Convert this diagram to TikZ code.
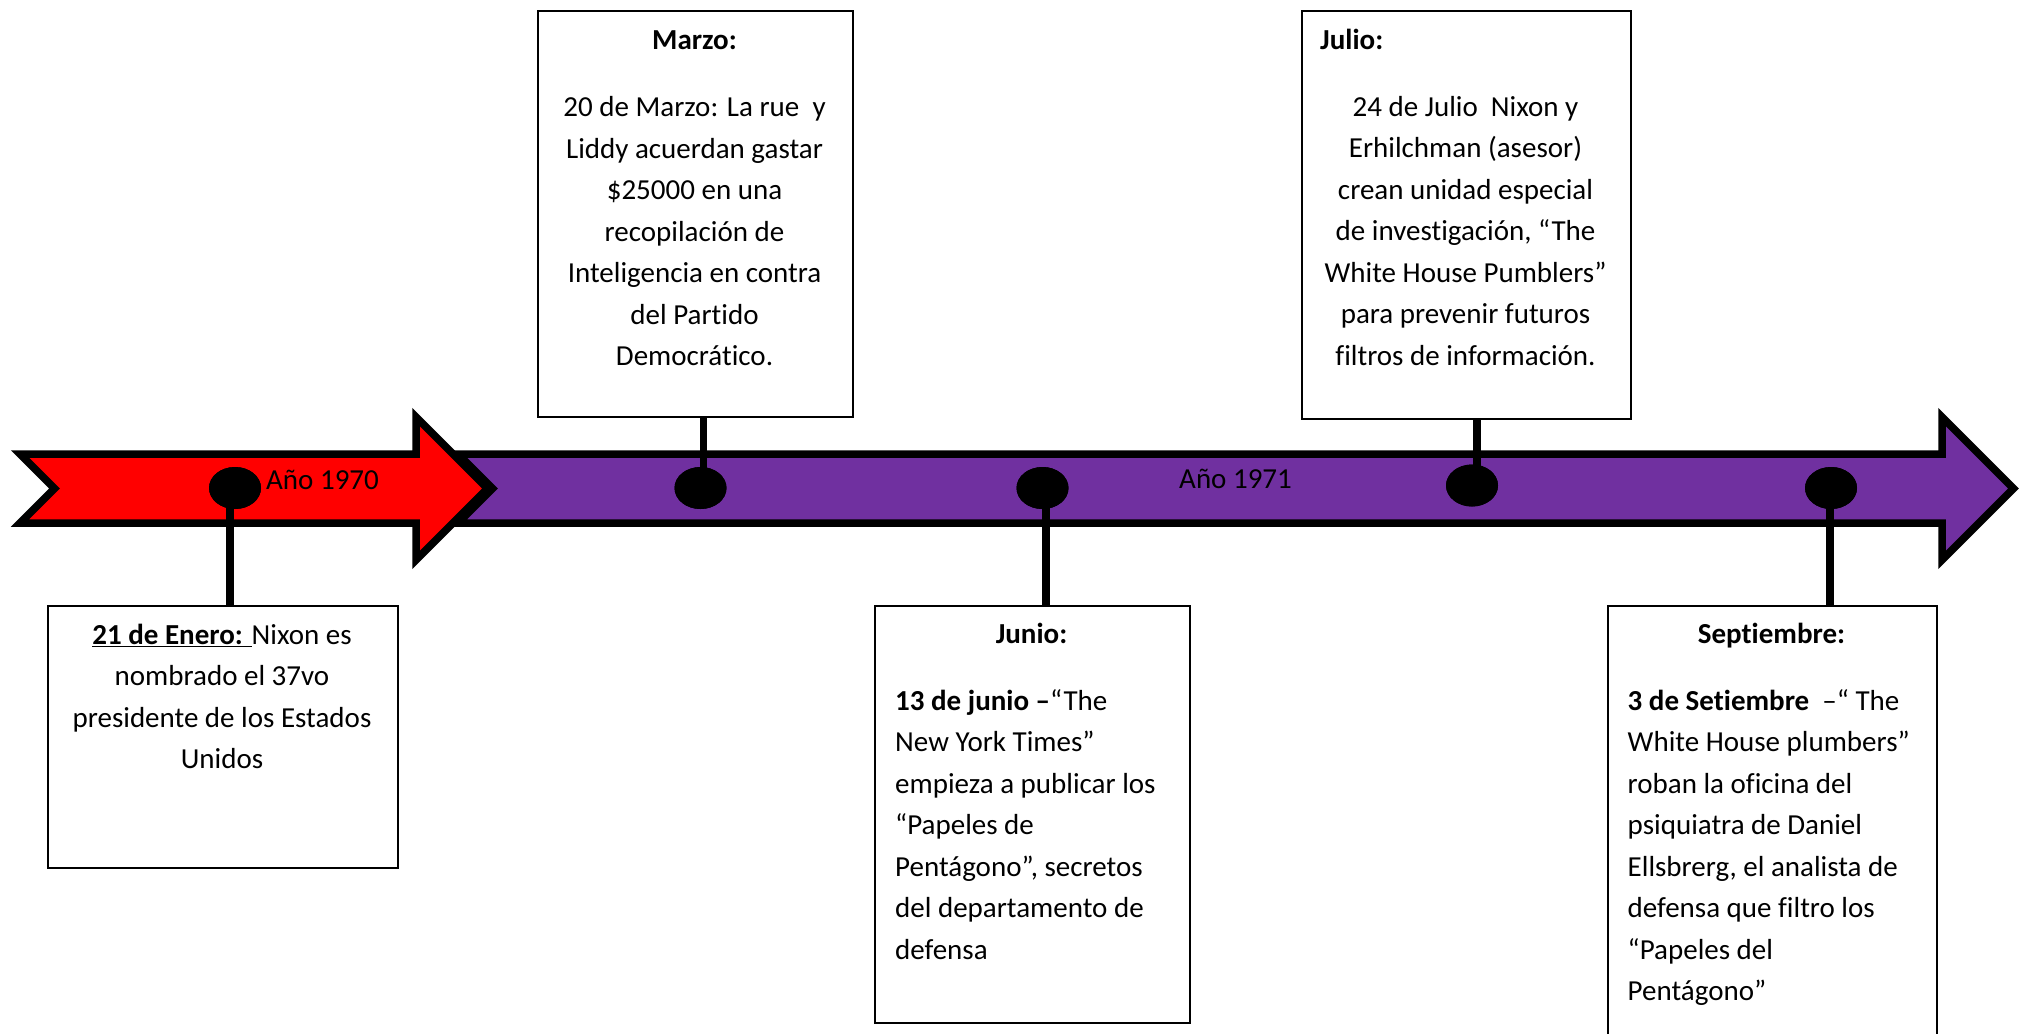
\documentclass[tikz,border=0pt]{standalone}
\usepackage{fontspec}
\setmainfont[Ligatures={NoCommon,NoContextual,NoRare},Contextuals=NoAlternate,RawFeature={-liga;-calt;-clig;-dlig}]{Carlito}
\usetikzlibrary{shapes.geometric,calc}
\definecolor{arrowpurple}{HTML}{7030A0}
\definecolor{arrowred}{HTML}{FF0000}
\newcommand\evfont{\fontsize{29}{41.5}\selectfont}
\begin{document}
\begin{tikzpicture}[x=1pt,y=-1pt,
  evbox/.style={draw=black, line width=2.4pt, fill=white, inner sep=0pt, anchor=north west},
  evtext/.style={inner sep=0pt, font=\evfont, text=black},
  stemline/.style={line width=7.5pt, draw=black},
  evdot/.style={ellipse, fill=black, draw=none, inner sep=0pt, minimum width=52pt, minimum height=42pt},
  arrowband/.style={draw=black, line width=7.5pt, line join=miter, miter limit=10}
]
\useasboundingbox (0,0) rectangle (2025,1033);
\clip (0,0) rectangle (2025,1033);

% timeline arrows
\draw[arrowband, fill=arrowpurple] (458,454) -- (1942,454) -- (1942,417) -- (2013.5,488.5)
  -- (1942,560) -- (1942,523) -- (458,523) -- (492.5,488.5) -- cycle;
\draw[arrowband, fill=arrowred] (20,454) -- (416,454) -- (416,417) -- (487.5,488.5)
  -- (416,560) -- (416,523) -- (20,523) -- (54.5,488.5) -- cycle;

\node[evtext, anchor=base west] (y70) at (266,489) {Año 1970};
\node[evtext, anchor=base west] (y71) at (1179,488.5) {Año 1971};

% event boxes
\node[evbox, minimum width=350pt, minimum height=262pt] (enero) at (47,605) {};
\node[evbox, minimum width=315pt, minimum height=406pt] (marzo) at (537,10) {};
\node[evbox, minimum width=315pt, minimum height=417pt] (junio) at (874,605) {};
\node[evbox, minimum width=329pt, minimum height=408pt] (julio) at (1301,10) {};
\node[evbox, minimum width=329pt, minimum height=440pt] (sept) at (1607,605) {};

% dots
\node[evdot] (d1) at (235,488) {};
\node[evdot] (d2) at (700.5,488) {};
\node[evdot] (d3) at (1042.5,488) {};
\node[evdot] (d4) at (1472,485.5) {};
\node[evdot] (d5) at (1831,488) {};

% stems
\coordinate (s1) at ($(d1.center)+(-5,0)$);
\coordinate (s2) at ($(d2.center)+(3.2,0)$);
\coordinate (s3) at ($(d3.center)+(3.5,0)$);
\coordinate (s4) at ($(d4.center)+(5,0)$);
\coordinate (s5) at ($(d5.center)+(-1,0)$);
\draw[stemline] (s1) -- (s1 |- enero.north);
\draw[stemline] (s2) -- (s2 |- marzo.south);
\draw[stemline] (s3) -- (s3 |- junio.north);
\draw[stemline] (s4) -- (s4 |- julio.south);
\draw[stemline] (s5) -- (s5 |- sept.north);
\node[evdot] at (d1) {};
\node[evdot] at (d2) {};
\node[evdot] at (d3) {};
\node[evdot] at (d4) {};
\node[evdot] at (d5) {};

% texts
\node[evtext, anchor=north, align=center] (t1) at (222,615)
  {\strut\underline{\textbf{21 de Enero:} }Nixon es\\ nombrado el 37vo\\ presidente de los Estados\\ Unidos};

\node[evtext, anchor=base] (h2) at (694.5,50) {\textbf{Marzo:}};
\node[evtext, anchor=north, align=center] (t2) at (694.5,87.5)
  {\strut 20 de Marzo: La rue~ y\\ Liddy acuerdan gastar\\ \$25000 en una\\ recopilación de\\ Inteligencia en contra\\ del Partido\\ Democrático.};

\node[evtext, anchor=base] (h3) at (1031.5,643.3) {\textbf{Junio:}};
\node[evtext, anchor=north west, align=left] (t3) at (895,681)
  {\strut\textbf{13 de junio –}“The\\ New York Times”\\ empieza a publicar los\\ “Papeles de\\ Pentágono”, secretos\\ del departamento de\\ defensa};

\node[evtext, anchor=base west] (h4) at (1320,50) {\textbf{Julio:}};
\node[evtext, anchor=north, align=center] (t4) at (1465.5,87)
  {\strut 24 de Julio~ Nixon y\\ Erhilchman (asesor)\\ crean unidad especial\\ de investigación, “The\\ White House Pumblers”\\ para prevenir futuros\\ filtros de información.};

\node[evtext, anchor=base] (h5) at (1771.5,643.3) {\textbf{Septiembre:}};
\node[evtext, anchor=north west, align=left] (t5) at (1627.5,681)
  {\strut\textbf{3 de Setiembre}~ –“ The\\ White House plumbers”\\ roban la oficina del\\ psiquiatra de Daniel\\ Ellsbrerg, el analista de\\ defensa que filtro los\\ “Papeles del\\ Pentágono”};
\end{tikzpicture}
\end{document}
